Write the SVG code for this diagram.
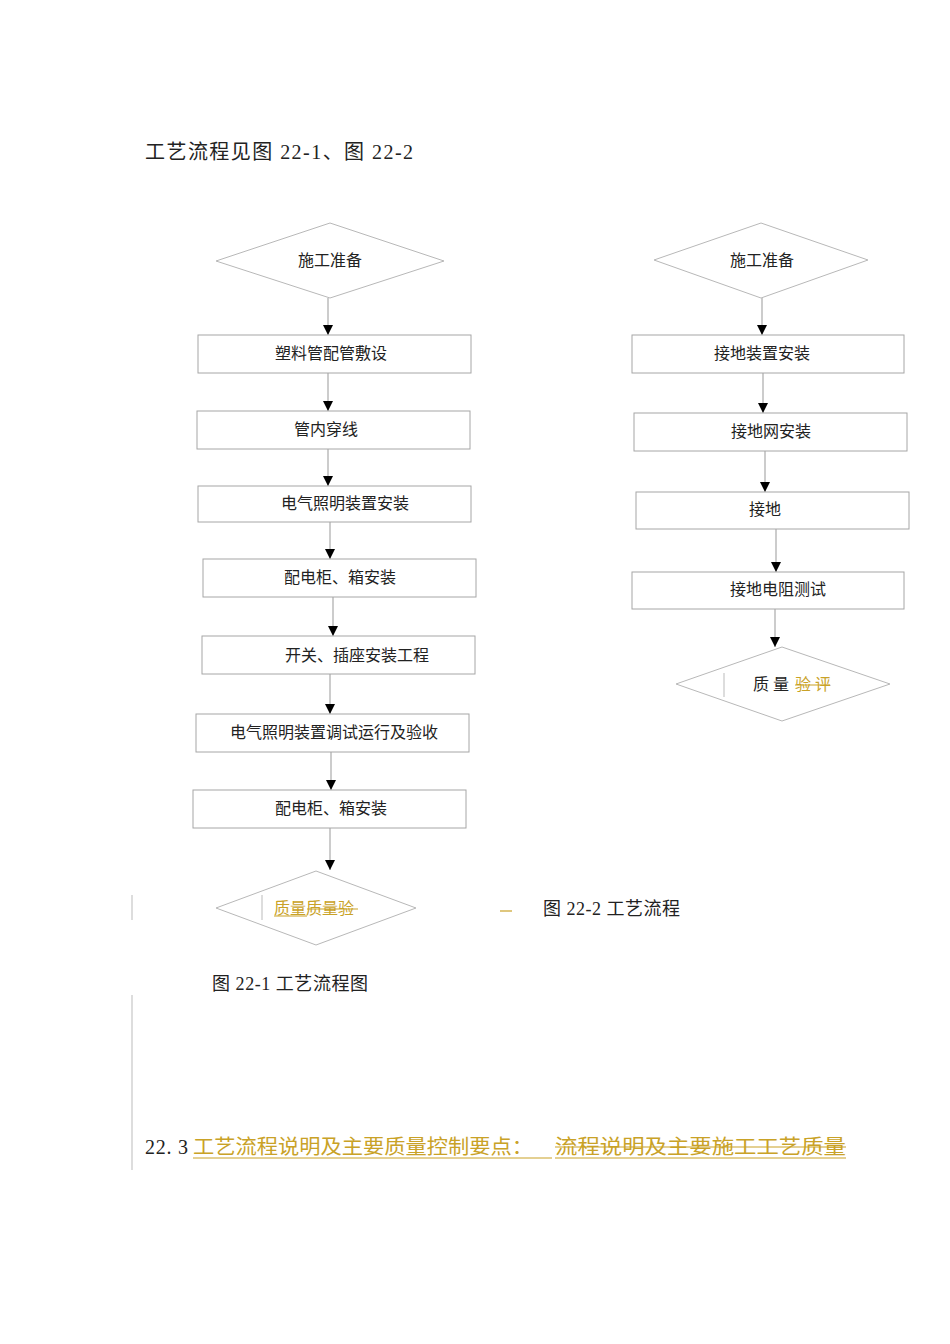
<svg xmlns="http://www.w3.org/2000/svg" width="950" height="1344" viewBox="0 0 950 1344">
<style>
text{font-family:"Liberation Serif","Noto Sans CJK SC",serif;fill:#222}
.n{font-size:16px;text-anchor:middle}
.box{fill:#fff;stroke:#a6a6a6;stroke-width:1}
.dia{fill:#fff;stroke:#b8b8b8;stroke-width:1}
.ln{stroke:#999;stroke-width:1;fill:none}
.gold{fill:#c9a227}
.gl{stroke:#c9a227;stroke-width:1.2}
.bar{stroke:#bbb;stroke-width:1}
</style>
<defs>
<marker id="ah" viewBox="0 0 10 10" refX="10" refY="5" markerWidth="10" markerHeight="10" markerUnits="userSpaceOnUse" orient="auto">
<path d="M0,0 L10,5 L0,10 Z" fill="#000"/>
</marker>
</defs>
<rect width="950" height="1344" fill="#fff"/>
<text x="145" y="159" style="font-size:20px" textLength="268" lengthAdjust="spacing">工艺流程见图 22-1、图 22-2</text>

<g id="connectors">
<line class="ln" x1="328" y1="298" x2="328" y2="335" marker-end="url(#ah)"/>
<line class="ln" x1="328" y1="373" x2="328" y2="411" marker-end="url(#ah)"/>
<line class="ln" x1="328" y1="449" x2="328" y2="486" marker-end="url(#ah)"/>
<line class="ln" x1="330" y1="522" x2="330" y2="559" marker-end="url(#ah)"/>
<line class="ln" x1="333" y1="597" x2="333" y2="636" marker-end="url(#ah)"/>
<line class="ln" x1="330" y1="674" x2="330" y2="714" marker-end="url(#ah)"/>
<line class="ln" x1="331" y1="752" x2="331" y2="790" marker-end="url(#ah)"/>
<line class="ln" x1="330" y1="828" x2="330" y2="870" marker-end="url(#ah)"/>
<line class="ln" x1="762" y1="298" x2="762" y2="335" marker-end="url(#ah)"/>
<line class="ln" x1="763" y1="373" x2="763" y2="413" marker-end="url(#ah)"/>
<line class="ln" x1="765" y1="451" x2="765" y2="492" marker-end="url(#ah)"/>
<line class="ln" x1="776" y1="529" x2="776" y2="572" marker-end="url(#ah)"/>
<line class="ln" x1="775" y1="609" x2="775" y2="647" marker-end="url(#ah)"/>
</g>

<g id="L0"><polygon class="dia" points="216,261 330,223 444,261 330,298"/><text class="n" x="330" y="266">施工准备</text></g>
<g id="L1"><rect class="box" x="198" y="335" width="273" height="38"/><text class="n" x="331" y="359">塑料管配管敷设</text></g>
<g id="L2"><rect class="box" x="197" y="411" width="273" height="38"/><text class="n" x="326" y="435">管内穿线</text></g>
<g id="L3"><rect class="box" x="198" y="486" width="273" height="36"/><text class="n" x="345" y="509">电气照明装置安装</text></g>
<g id="L4"><rect class="box" x="203" y="559" width="273" height="38"/><text class="n" x="340" y="583">配电柜、箱安装</text></g>
<g id="L5"><rect class="box" x="202" y="636" width="273" height="38"/><text class="n" x="357" y="661">开关、插座安装工程</text></g>
<g id="L6"><rect class="box" x="196" y="714" width="273" height="38"/><text class="n" x="334" y="738">电气照明装置调试运行及验收</text></g>
<g id="L7"><rect class="box" x="193" y="790" width="273" height="38"/><text class="n" x="331" y="814">配电柜、箱安装</text></g>
<g id="L8"><polygon class="dia" points="216,908 316,871 416,908 316,945"/>
<line class="bar" x1="262" y1="895" x2="262" y2="920"/>
<text class="gold" x="274" y="914" style="font-size:16px">质量质量验</text>
<line class="gl" x1="274" y1="916" x2="307" y2="916"/>
<line class="gl" x1="307" y1="909" x2="358" y2="909"/>
</g>

<g id="R0"><polygon class="dia" points="654,260 761,223 868,260 761,298"/><text class="n" x="762" y="266">施工准备</text></g>
<g id="R1"><rect class="box" x="632" y="335" width="272" height="38"/><text class="n" x="762" y="359">接地装置安装</text></g>
<g id="R2"><rect class="box" x="634" y="413" width="273" height="38"/><text class="n" x="771" y="437">接地网安装</text></g>
<g id="R3"><rect class="box" x="636" y="492" width="273" height="37"/><text class="n" x="765" y="515">接地</text></g>
<g id="R4"><rect class="box" x="632" y="572" width="272" height="37"/><text class="n" x="778" y="595">接地电阻测试</text></g>
<g id="R5"><polygon class="dia" points="676,684 782,647 890,684 782,721"/>
<line class="bar" x1="724" y1="673" x2="724" y2="697"/>
<text x="753" y="690" style="font-size:16px">质 量</text>
<text class="gold" x="795" y="690" style="font-size:16px">验 评</text>
<line class="gl" x1="795" y1="685" x2="830" y2="685"/>
</g>

<line class="bar" x1="132" y1="895" x2="132" y2="920"/>
<line class="gl" x1="500" y1="911" x2="512" y2="911"/>
<text x="543" y="915" style="font-size:18px" textLength="137" lengthAdjust="spacing">图 22-2 工艺流程</text>
<text x="212" y="990" style="font-size:18px" textLength="156" lengthAdjust="spacing">图 22-1 工艺流程图</text>
<line class="bar" x1="132" y1="995" x2="132" y2="1170"/>

<text x="145" y="1154" style="font-size:20px" textLength="43" lengthAdjust="spacing">22. 3</text>
<text class="gold" x="193" y="1154" style="font-size:20px" textLength="340" lengthAdjust="spacingAndGlyphs">工艺流程说明及主要质量控制要点：</text>
<line class="gl" x1="193" y1="1158" x2="552" y2="1158"/>
<text class="gold" x="555" y="1154" style="font-size:20px" textLength="291" lengthAdjust="spacingAndGlyphs">流程说明及主要施工工艺质量</text>
<line class="gl" x1="555" y1="1147" x2="846" y2="1147"/>
<line class="gl" x1="555" y1="1158" x2="846" y2="1158"/>
</svg>
